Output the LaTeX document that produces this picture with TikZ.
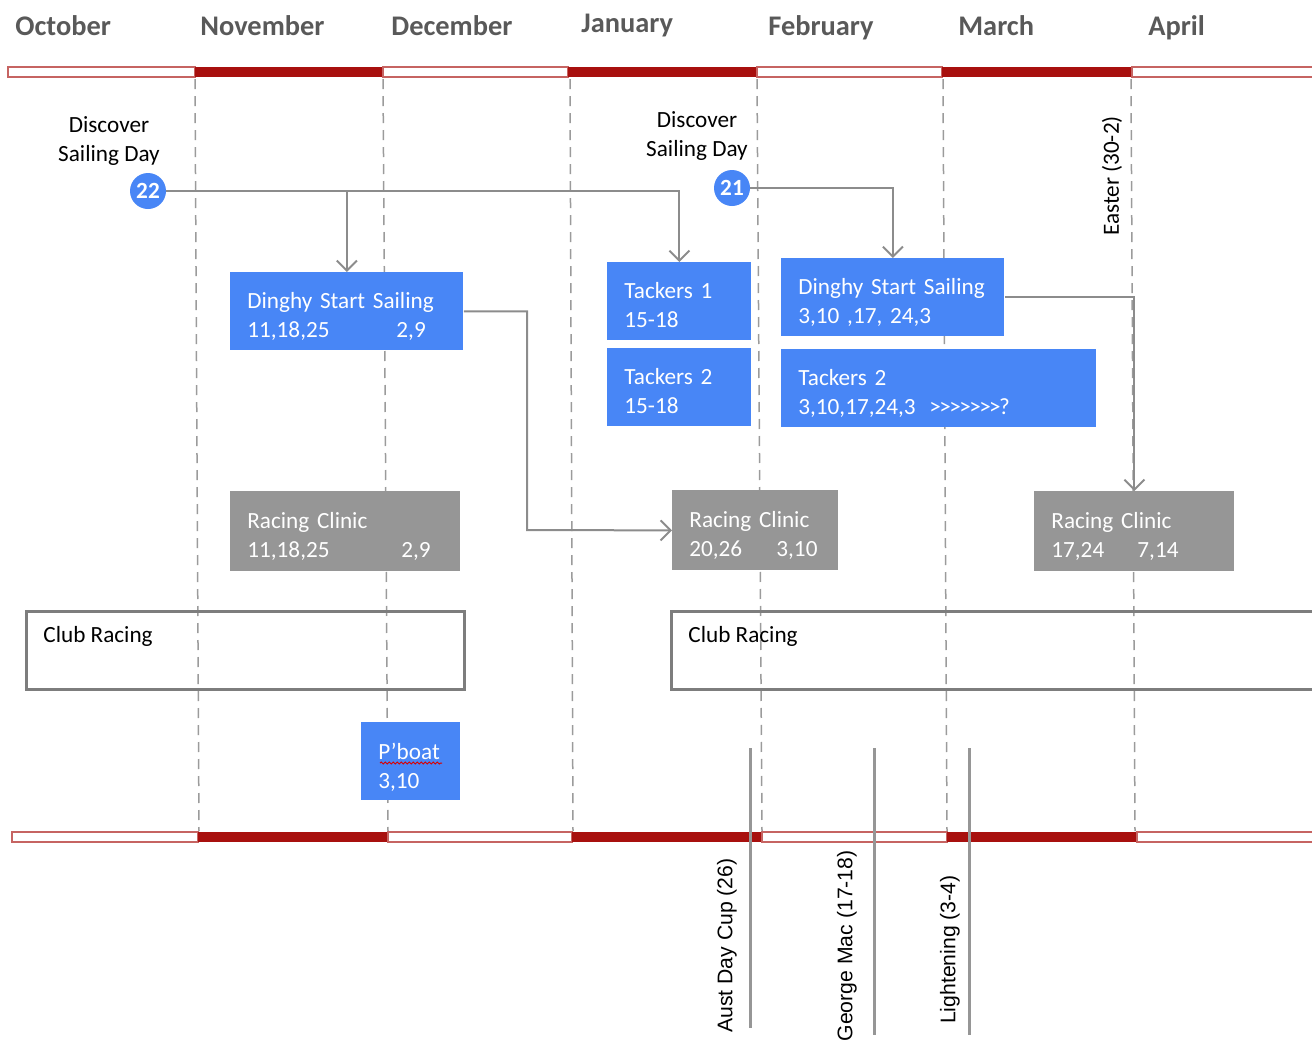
\documentclass[tikz,border=0pt]{standalone}
\usepackage{fontspec}
\setmainfont{Carlito}
\newfontfamily\eventfamily{Liberation Sans}
\usepackage{xcolor}
\usepackage{tikz}
\usetikzlibrary{arrows.meta,positioning,decorations.pathmorphing}
\definecolor{barred}{RGB}{168,16,14}
\definecolor{boxblue}{RGB}{72,134,246}
\definecolor{boxgray}{RGB}{150,150,150}
\definecolor{linegray}{RGB}{140,140,140}
\definecolor{dashgray}{RGB}{155,155,155}
\definecolor{clubgray}{RGB}{125,125,125}
\definecolor{monthgray}{RGB}{89,89,89}
\newcommand\diagfont{\fontsize{11.6}{14.5}\selectfont}
\newcommand\monthsfont{\fontsize{14.2}{17}\selectfont\bfseries}
\newcommand\eventsfont{\eventfamily\fontsize{10.6}{13}\selectfont}
\newcommand\chev{>\kern-0.8pt}
\tikzset{>={Straight Barb[length=5pt,width=10pt]}}
\tikzset{blue box/.style={rectangle,fill=boxblue,text=white,anchor=north west,align=left,
            inner xsep=8.5pt,inner ysep=0pt,minimum height=39pt,text depth=10.5pt,font=\diagfont},
         gray box/.style={blue box,fill=boxgray,minimum height=40pt},
         club box/.style={rectangle,draw=clubgray,line width=1.5pt,anchor=north west,
            minimum height=39pt,inner sep=0pt},
         club text/.style={anchor=north west,inner sep=0pt,font=\diagfont,xshift=9pt,yshift=-8pt},
         day node/.style={circle,fill=boxblue,text=white,font=\diagfont\bfseries,
            minimum size=18pt,inner sep=0pt},
         day label/.style={align=center,font=\diagfont},
         month label/.style={anchor=base west,inner sep=0pt,text=monthgray,font=\monthsfont},
         month open/.style={draw=barred!65,fill=white,line width=1pt},
         month full/.style={fill=barred},
         month line/.style={draw=dashgray,line width=0.75pt,dash pattern=on 5pt off 3.5pt},
         link/.style={draw=linegray,line width=1pt},
         event line/.style={draw=boxgray,line width=1.5pt},
         event label/.style={rotate=90,anchor=east,inner sep=0pt,font=\eventsfont},
         spell wave/.style={draw=red!85!black,line width=0.5pt,decorate,
            decoration={snake,amplitude=0.5pt,segment length=2pt}},
            }

\begin{document}
\begin{tikzpicture}[x=0.5pt,y=-0.5pt]

    \useasboundingbox (0,0) rectangle (1312,1045);

    % months
    \node[month label] (oct) at (15,35)   {October};
    \node[month label] (nov) at (200,35)  {November};
    \node[month label] (dec) at (391,35)  {December};
    \node[month label] (jan) at (581,32)  {January};
    \node[month label] (feb) at (768,35)  {February};
    \node[month label] (mar) at (958,35)  {March};
    \node[month label] (apr) at (1148,35) {April};

    \foreach \xa/\xb/\kind in {8/195/month open,195/383/month full,383/568/month open,
        568/757/month full,757/942/month open,942/1132/month full,1132/1330/month open}
        \path[\kind] (\xa,67) rectangle (\xb,77);
    \foreach \xa/\xb/\kind in {12/198/month open,198/388/month full,388/572/month open,
        572/762/month full,762/947/month open,947/1137/month full,1137/1330/month open}
        \path[\kind] (\xa,832) rectangle (\xb,842);

    \foreach \xt/\xb in {195/199,383/388,570/573,757/762,943/947,1131/1135}
        \draw[month line] (\xt,79) -- (\xb,831);

    % sailing days
    \node[day node] (c22) at (148,191) {22};
    \node[day label] (lbl22) at (109,141) {Discover\\Sailing Day};
    \node[day node] (c21) at (732,188) {21};
    \node[day label] (lbl21) at (697,136) {Discover\\Sailing Day};
    \node[rotate=90,font=\diagfont] (easter) at (1112,176) {Easter (30-2)};

    % courses
    \node[blue box,text width=99.5pt] (dss1) at (230,272)
        {Dinghy Start Sailing\\\makebox[74.5pt][l]{11,18,25}2,9};
    \node[gray box,text width=98pt] (rc1) [below right = 70pt and 0pt of dss1.south west]
        {Racing Clinic\\\makebox[77pt][l]{11,18,25}2,9};
    \node[blue box,text width=55pt] (tk1) at (607,262) {Tackers 1\\15-18};
    \node[blue box,text width=55pt] (tk2) [below = 3.5pt of tk1] {Tackers 2\\15-18};
    \node[blue box,text width=94.5pt] (dss2) at (781,258)
        {Dinghy Start Sailing\\3,10 ,17, 24,3};
    \node[blue box,text width=140.5pt] (tk2b) [below right = 6pt and 0pt of dss2.south west]
        {Tackers 2\\\makebox[65.5pt][l]{3,10,17,24,3}\chev\chev\chev\chev\chev\chev\chev?};
    \node[gray box,text width=66pt] (rc2) at (672,490)
        {Racing Clinic\\\makebox[43.5pt][l]{20,26}3,10};
    \node[gray box,text width=83pt] (rc3) at (1034,491)
        {Racing Clinic\\\makebox[43pt][l]{17,24}7,14};
    \node[blue box,text width=32.5pt] (pboat) at (361,722) {P’boat\\3,10};
    \draw[spell wave] ([shift={(19,41)}]pboat.north west) -- ++(62,0);

    % club racing
    \node[club box,minimum width=219pt] (club1) at (25,610) {};
    \node[club text] at (club1.north west) {Club Racing};
    \node[club box,minimum width=330pt] (club2) at (670,610) {};
    \node[club text] at (club2.north west) {Club Racing};

    \coordinate (bend) at (527,530);

    \path[draw,link,->] (c22.east) -| (tk1.north);
    \path[draw,link,->] (c22.east -| dss1.north) -- (dss1.north);
    \path[draw,link,->] (c21.east) -| (dss2.north);
    \path[draw,link,->] (dss1.east) -| (bend) -- (rc2.west);
    \path[draw,link,->] (dss2.east) -| (rc3.north);

    % regattas
    \draw[event line] (750,748) -- (750,1028);
    \node[event label] (aust) at (727,858) {Aust Day Cup (26)};
    \draw[event line] (874,748) -- (874,1035);
    \node[event label] (george) at (847,850) {George Mac (17-18)};
    \draw[event line] (969,748) -- (969,1035);
    \node[event label] (light) at (950,875) {Lightening (3-4)};

\end{tikzpicture}
\end{document}
